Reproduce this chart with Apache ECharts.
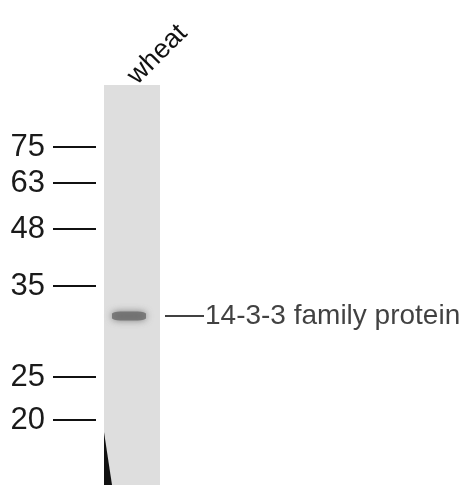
<!DOCTYPE html>
<html><head><meta charset="utf-8">
<script src="https://cdn.jsdelivr.net/npm/echarts@6/dist/echarts.min.js"></script>
<style>html,body{margin:0;background:#fff}#c{width:463px;height:485px}</style>
</head><body><div id="c"></div>
<script>
// Data
const lanes = ['wheat'];
const markerLabels = ['75', '63', '48', '35', '25', '20'];      // kDa
const markerMigration = [62, 98, 144, 201, 292, 335];          // migration distance (arbitrary units from lane top)
const bandMigration = [230];
const bandLabels = ['14-3-3 family protein'];

const chart = echarts.init(document.getElementById('c'));
const font = '"Liberation Sans", Arial, sans-serif';
chart.setOption({
  animation: false,
  backgroundColor: '#fff',
  grid: { left: 104, width: 56, top: 85, bottom: 0, show: true, backgroundColor: '#dedede', borderWidth: 0 },
  xAxis: {
    type: 'category', data: lanes, position: 'top',
    axisLine: { show: false }, axisTick: { show: false },
    axisLabel: { rotate: 45, fontSize: 27, color: '#111', fontFamily: font, margin: 5 }
  },
  yAxis: {
    type: 'value', inverse: true, min: 0, max: 400, offset: 8,
    axisLine: { show: false },
    splitLine: { show: false },
    axisTick: { show: true, customValues: markerMigration, length: 43, lineStyle: { color: '#111', width: 2 } },
    axisLabel: {
      customValues: markerMigration, margin: 51, fontSize: 31, color: '#1a1a1a', fontFamily: font,
      formatter: v => markerLabels[markerMigration.indexOf(v)]
    }
  },
  series: [{
    type: 'scatter',
    data: bandMigration.map((m, i) => ({ value: [lanes[0], m], name: bandLabels[i] })),
    symbol: 'roundRect', symbolSize: [34, 9], symbolOffset: [-3, 1],
    itemStyle: { color: '#6a6a6a', shadowBlur: 7, shadowColor: 'rgba(90,90,90,0.9)' },
    label: {
      show: true, position: 'right', distance: 19, color: '#111',
      formatter: p => '{l|}{t|' + p.name + '}',
      rich: {
        l: { width: 39, height: 2, backgroundColor: '#111' },
        t: { fontSize: 28, color: '#111', fontFamily: font, padding: [0, 0, 0, 1] }
      }
    }
  }],
  graphic: [{
    type: 'polygon', shape: { points: [[104, 432], [104, 485], [112, 485]] },
    style: { fill: '#111' }
  }]
});
</script></body></html>
